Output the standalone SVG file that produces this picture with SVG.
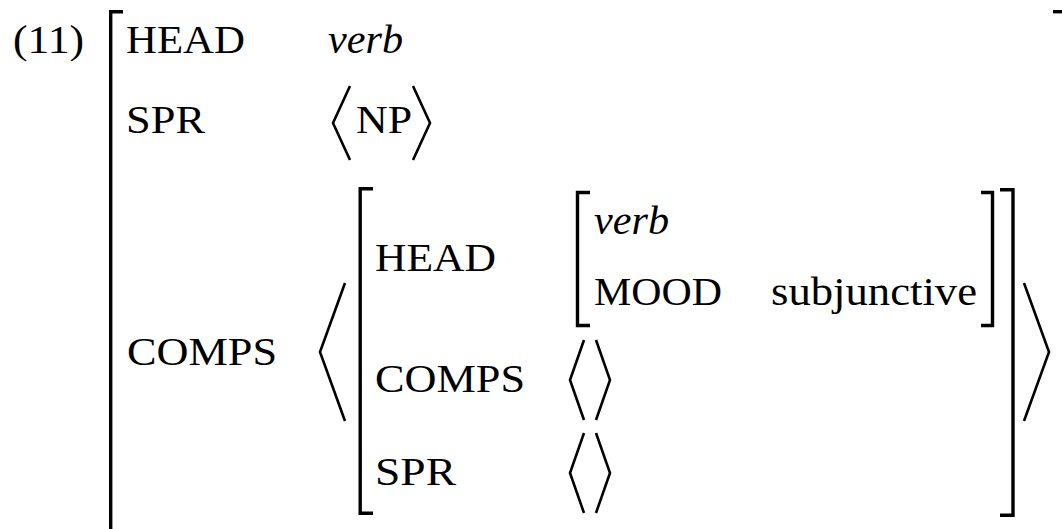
<svg xmlns="http://www.w3.org/2000/svg" width="1062" height="529" viewBox="0 0 1062 529">
  <style>
    text { font-family: "Liberation Serif", "Times New Roman", serif; font-size: 41px; fill: #000; }
    .it { font-style: italic; }
    .br { fill: none; stroke: #000; stroke-width: 3.4; stroke-linecap: butt; stroke-linejoin: miter; }
    .ang { fill: none; stroke: #000; stroke-width: 2.6; stroke-linecap: butt; stroke-linejoin: miter; }
  </style>
  <rect width="1062" height="529" fill="#fff"/>

  <!-- example number -->
  <text x="13" y="53" textLength="71" lengthAdjust="spacingAndGlyphs">(11)</text>

  <!-- outer feature structure -->
  <g id="outer-avm">
    <path class="br" d="M123,11.7 H110.7 V531 H123"/>
    <path class="br" d="M1053,11.7 H1066"/>
    <text x="126" y="53" textLength="119" lengthAdjust="spacingAndGlyphs">HEAD</text>
    <text class="it" x="328" y="53" textLength="75" lengthAdjust="spacingAndGlyphs">verb</text>
    <text x="126" y="133" textLength="79" lengthAdjust="spacingAndGlyphs">SPR</text>
    <path class="ang" d="M350,86 L333,123 L350,160"/>
    <text x="356" y="133" textLength="56" lengthAdjust="spacingAndGlyphs">NP</text>
    <path class="ang" d="M413,86 L430,123 L413,160"/>
    <text x="127" y="365" textLength="150" lengthAdjust="spacingAndGlyphs">COMPS</text>
    <!-- list brackets around the complement -->
    <path class="ang" d="M345,283 L320,352 L345,421"/>
    <path class="ang" d="M1024,283 L1049,352 L1024,421"/>
  </g>

  <!-- complement feature structure -->
  <g id="comp-avm">
    <path class="br" d="M373,188.7 H360.2 V513.3 H373"/>
    <path class="br" d="M1000,189.7 H1013 V515.3 H1000"/>
    <text x="375" y="271" textLength="121" lengthAdjust="spacingAndGlyphs">HEAD</text>
    <text x="375" y="392" textLength="150" lengthAdjust="spacingAndGlyphs">COMPS</text>
    <path class="ang" d="M584,340 L570,380 L584,420"/>
    <path class="ang" d="M596,340 L610,380 L596,420"/>
    <text x="375" y="485" textLength="81" lengthAdjust="spacingAndGlyphs">SPR</text>
    <path class="ang" d="M584,433 L570,473 L584,513"/>
    <path class="ang" d="M596,433 L610,473 L596,513"/>
  </g>

  <!-- head value -->
  <g id="head-avm">
    <path class="br" d="M590,192.5 H577.5 V325.5 H590"/>
    <path class="br" d="M981,192.5 H992.5 V325.5 H981"/>
    <text class="it" x="594" y="234" textLength="75" lengthAdjust="spacingAndGlyphs">verb</text>
    <text x="594" y="305" textLength="128" lengthAdjust="spacingAndGlyphs">MOOD</text>
    <text x="771" y="305" textLength="206" lengthAdjust="spacingAndGlyphs">subjunctive</text>
  </g>
</svg>
